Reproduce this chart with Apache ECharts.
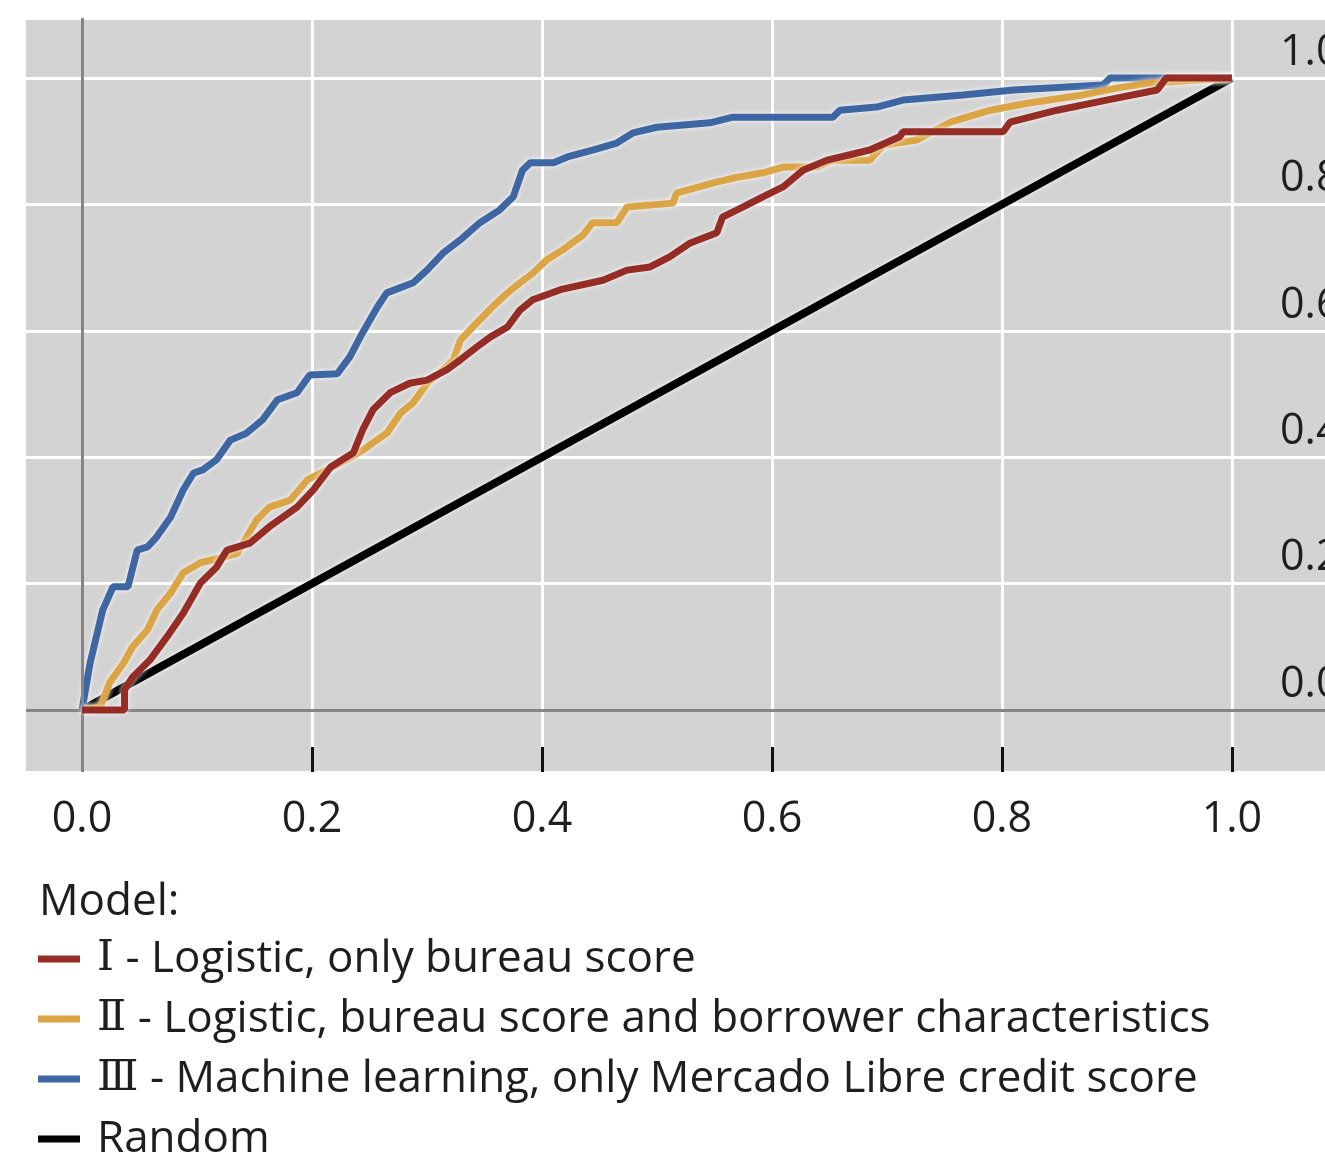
<!DOCTYPE html>
<html>
<head>
<meta charset="utf-8">
<script src="https://cdn.jsdelivr.net/npm/echarts@6/dist/echarts.min.js"></script>
<style>
html,body{margin:0;padding:0;background:#ffffff;overflow:hidden;}
#chart{width:1325px;height:1152px;}
</style>
</head>
<body>
<div id="chart"></div>
<script>
// ---- data ----
const xTickValues = [0, 0.2, 0.4, 0.6, 0.8, 1.0];
const yTickValues = [0, 0.2, 0.4, 0.6, 0.8, 1.0];
const xTickMarks = [0.2, 0.4, 0.6, 0.8, 1.0];

const legendTitle = 'Model:';
const nameI = 'Ⅰ - Logistic, only bureau score';
const nameII = 'Ⅱ - Logistic, bureau score and borrower characteristics';
const nameIII = 'Ⅲ - Machine learning, only Mercado Libre credit score';
const nameRandom = 'Random';

const modelI = [
  [0,0],[0.037,0],[0.037,0.032],[0.044,0.052],[0.059,0.079],[0.074,0.116],[0.088,0.153],
  [0.103,0.201],[0.117,0.226],[0.126,0.253],[0.146,0.264],[0.163,0.290],[0.187,0.321],
  [0.201,0.348],[0.216,0.384],[0.236,0.407],[0.244,0.443],[0.253,0.475],[0.268,0.502],
  [0.285,0.517],[0.300,0.522],[0.317,0.538],[0.329,0.554],[0.343,0.574],[0.355,0.590],
  [0.370,0.606],[0.381,0.633],[0.392,0.649],[0.416,0.665],[0.453,0.680],[0.474,0.696],
  [0.494,0.701],[0.511,0.717],[0.529,0.739],[0.552,0.755],[0.557,0.780],[0.575,0.796],
  [0.592,0.812],[0.610,0.828],[0.627,0.854],[0.648,0.870],[0.685,0.886],[0.711,0.907],
  [0.714,0.915],[0.801,0.915],[0.807,0.930],[0.848,0.949],[0.891,0.965],[0.935,0.981],
  [0.943,1.0],[1.0,1.0]
];

const modelII = [
  [0,0],[0.016,0.005],[0.024,0.043],[0.036,0.074],[0.044,0.100],[0.057,0.127],[0.065,0.158],
  [0.077,0.185],[0.088,0.217],[0.103,0.233],[0.123,0.242],[0.135,0.248],[0.152,0.301],
  [0.163,0.321],[0.181,0.332],[0.196,0.364],[0.213,0.380],[0.230,0.396],[0.244,0.411],
  [0.265,0.438],[0.277,0.470],[0.288,0.486],[0.300,0.517],[0.311,0.533],[0.323,0.554],
  [0.329,0.585],[0.343,0.612],[0.357,0.638],[0.370,0.660],[0.381,0.676],[0.392,0.691],
  [0.404,0.712],[0.418,0.728],[0.436,0.752],[0.444,0.771],[0.465,0.771],[0.474,0.796],
  [0.514,0.802],[0.517,0.818],[0.549,0.834],[0.570,0.843],[0.592,0.850],[0.610,0.859],
  [0.639,0.859],[0.653,0.870],[0.685,0.870],[0.697,0.894],[0.726,0.902],[0.755,0.930],
  [0.790,0.949],[0.822,0.960],[0.870,0.973],[0.900,0.984],[0.929,0.992],[1.0,1.0]
];

const modelIII = [
  [0,0],[0.007,0.074],[0.018,0.158],[0.027,0.195],[0.040,0.195],[0.048,0.253],[0.057,0.258],
  [0.065,0.274],[0.077,0.305],[0.088,0.348],[0.097,0.375],[0.105,0.380],[0.117,0.396],
  [0.129,0.427],[0.143,0.438],[0.157,0.459],[0.170,0.491],[0.187,0.502],[0.198,0.530],
  [0.222,0.532],[0.233,0.559],[0.244,0.597],[0.257,0.638],[0.265,0.660],[0.288,0.676],
  [0.300,0.696],[0.314,0.723],[0.329,0.744],[0.346,0.771],[0.363,0.791],[0.375,0.812],
  [0.383,0.854],[0.390,0.866],[0.410,0.866],[0.422,0.875],[0.444,0.886],[0.465,0.897],
  [0.479,0.913],[0.500,0.922],[0.546,0.929],[0.566,0.938],[0.653,0.938],[0.659,0.949],
  [0.691,0.954],[0.714,0.965],[0.766,0.973],[0.810,0.981],[0.888,0.989],[0.894,1.0],
  [1.0,1.0]
];

const randomLine = [[0,0],[1,1]];

// ---- chart ----
const FONT = '"Open Sans", "Noto Sans", "DejaVu Sans", sans-serif';
const SERIF = '"DejaVu Serif", "Liberation Serif", serif';
const TEXT = '#1e1e1e';
const halo = {shadowColor: 'rgba(255,255,255,0.9)', shadowBlur: 5};
const fmt = v => Number(v).toFixed(1);
const legendFormatter = name => {
  const i = name.indexOf(' - ');
  if (i < 0) return '{t|' + name + '}';
  return '{rn|' + name.slice(0, i) + '}{t|' + name.slice(i) + '}';
};

const chart = echarts.init(document.getElementById('chart'), null, {renderer: 'canvas'});
const option = {
  animation: false,
  backgroundColor: '#ffffff',
  textStyle: {fontFamily: FONT},
  title: {
    text: legendTitle, left: 34, top: 875,
    textStyle: {fontFamily: FONT, fontSize: 44, fontWeight: 'normal', color: TEXT}
  },
  legend: {
    orient: 'vertical', left: 38, top: 936, height: 320, padding: 0,
    itemWidth: 42, itemHeight: 7, itemGap: 14, icon: 'rect',
    data: [nameI, nameII, nameIII, nameRandom],
    formatter: legendFormatter,
    textStyle: {
      fontFamily: FONT, fontSize: 44, lineHeight: 46, color: TEXT, padding: [0, 0, 0, 12],
      rich: {
        rn: {fontFamily: SERIF, fontSize: 43, lineHeight: 46, color: TEXT},
        t: {fontFamily: FONT, fontSize: 44, lineHeight: 46, color: TEXT}
      }
    }
  },
  grid: {
    left: 26, right: 0, top: 18, bottom: 380,
    outerBoundsMode: 'none', containLabel: false,
    show: true, backgroundColor: '#d3d3d3', borderWidth: 0
  },
  xAxis: {
    type: 'value', min: -0.0487, max: 1.0809,
    splitNumber: 5, minInterval: 0.2, maxInterval: 0.2,
    axisLine: {show: false, onZero: false},
    axisTick: {show: true, inside: true, length: 25, customValues: xTickMarks,
      lineStyle: {color: '#111111', width: 3}},
    axisLabel: {customValues: xTickValues, formatter: fmt, fontSize: 43, color: TEXT, margin: 26},
    splitLine: {show: true, lineStyle: {color: '#ffffff', width: 3}}
  },
  yAxis: {
    type: 'value', position: 'right', min: -0.0981, max: 1.0949,
    splitNumber: 5, minInterval: 0.2, maxInterval: 0.2,
    axisLine: {show: false, onZero: false},
    axisTick: {show: false},
    axisLabel: {customValues: yTickValues, formatter: fmt, fontSize: 43, color: TEXT,
      margin: -45, align: 'left', verticalAlign: 'bottom', padding: [0, 0, 4, 0]},
    splitLine: {show: true, lineStyle: {color: '#ffffff', width: 3}}
  },
  series: [
    {
      name: nameRandom, type: 'line', data: randomLine, z: 2,
      showSymbol: false, symbol: 'none', silent: true,
      lineStyle: Object.assign({color: '#000000', width: 8}, halo),
      itemStyle: {color: '#000000'},
      markLine: {
        silent: true, symbol: ['none', 'none'], label: {show: false},
        lineStyle: {color: '#858585', width: 3, type: 'solid'},
        data: [{xAxis: 0}, {yAxis: 0}]
      }
    },
    {
      name: nameIII, type: 'line', data: modelIII, z: 3,
      showSymbol: false, symbol: 'none', silent: true,
      lineStyle: Object.assign({color: '#3d66a3', width: 7}, halo),
      itemStyle: {color: '#3d66a3'}
    },
    {
      name: nameII, type: 'line', data: modelII, z: 4,
      showSymbol: false, symbol: 'none', silent: true,
      lineStyle: Object.assign({color: '#dba444', width: 7}, halo),
      itemStyle: {color: '#dba444'}
    },
    {
      name: nameI, type: 'line', data: modelI, z: 5,
      showSymbol: false, symbol: 'none', silent: true,
      lineStyle: Object.assign({color: '#952d26', width: 7}, halo),
      itemStyle: {color: '#952d26'}
    }
  ]
};
chart.setOption(option);
</script>
</body>
</html>
